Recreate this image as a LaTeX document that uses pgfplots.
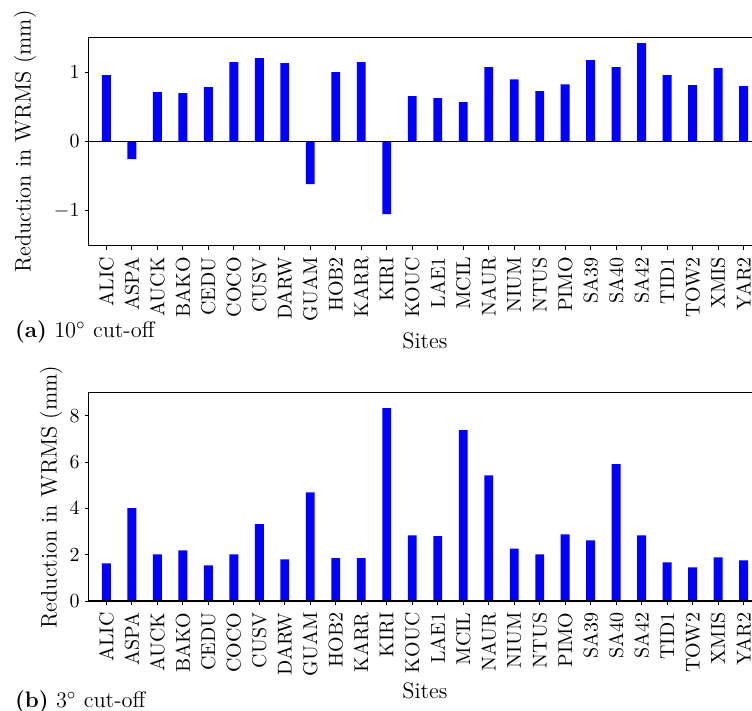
\documentclass[border=0pt]{standalone}
\usepackage{pgfplots}
\pgfplotsset{compat=1.18}
\begin{document}
\begin{tikzpicture}
\pgfplotsset{
  siteaxis/.style={
    scale only axis, width=336pt, height=104.2pt,
    xmin=-0.68, xmax=25.68,
    xtick={0,...,25},
    xticklabels={ALIC,ASPA,AUCK,BAKO,CEDU,COCO,CUSV,DARW,GUAM,HOB2,KARR,KIRI,KOUC,LAE1,MCIL,NAUR,NIUM,NTUS,PIMO,SA39,SA40,SA42,TID1,TOW2,XMIS,YAR2},
    xticklabel style={rotate=90, anchor=east},
    yticklabel style={xshift=1pt},
    tick align=outside, xtick pos=bottom, ytick pos=left,
    major tick length=2.2pt,
    tick label style={font=\fontsize{10}{12}\selectfont},
    label style={font=\fontsize{11.2}{13}\selectfont},
    ylabel={Reduction in WRMS (mm)},
    xlabel={Sites},
    clip=false,
    axis line style={line width=0.5pt},
    every tick/.style={black, line width=0.5pt},
  }
}
\begin{axis}[siteaxis, name=top, at={(0,0)}, anchor=north west,
  ymin=-1.5, ymax=1.5, ytick={-1,0,1},
  ylabel style={at={(axis description cs:-0.0952,0.5)}, anchor=center},
  xlabel style={at={(axis description cs:0.5,-0.457)}, anchor=center}]
\addplot[ybar, bar width=0.35, fill=blue, draw=none] coordinates {
(0,0.954) (1,-0.255) (2,0.709) (3,0.695) (4,0.781) (5,1.141) (6,1.199) (7,1.127)
(8,-0.614) (9,0.997) (10,1.141) (11,-1.046) (12,0.652) (13,0.623) (14,0.565)
(15,1.069) (16,0.896) (17,0.724) (18,0.824) (19,1.170) (20,1.069) (21,1.415)
(22,0.954) (23,0.810) (24,1.055) (25,0.796)};
\addplot[black, line width=0.75pt, forget plot] coordinates {(-0.68,0) (25.68,0)};
\node[anchor=west, font=\fontsize{11.2}{13}\selectfont] at (axis description cs:-0.1205,-0.414) {\textbf{(a)} 10$^\circ$ cut-off};
\end{axis}
\begin{axis}[siteaxis, name=bot, at={(0,-177.7pt)}, anchor=north west,
  ymin=0, ymax=9, ytick={0,2,4,6,8},
  ylabel style={at={(axis description cs:-0.0565,0.5)}, anchor=center},
  xlabel style={at={(axis description cs:0.5,-0.432)}, anchor=center}]
\addplot[ybar, bar width=0.35, fill=blue, draw=none] coordinates {
(0,1.63) (1,4.01) (2,2.02) (3,2.19) (4,1.54) (5,2.02) (6,3.32) (7,1.80)
(8,4.70) (9,1.85) (10,1.85) (11,8.33) (12,2.84) (13,2.80) (14,7.38)
(15,5.43) (16,2.27) (17,2.02) (18,2.88) (19,2.62) (20,5.91) (21,2.84)
(22,1.67) (23,1.46) (24,1.89) (25,1.76)};
\addplot[black, line width=0.75pt, forget plot] coordinates {(-0.68,0) (25.68,0)};
\node[anchor=west, font=\fontsize{11.2}{13}\selectfont] at (axis description cs:-0.1205,-0.482) {\textbf{(b)} 3$^\circ$ cut-off};
\end{axis}
\pgfresetboundingbox
\useasboundingbox ([shift={(-44.5pt,18.65pt)}]top.north west) rectangle ([shift={(331.5pt,-336.85pt)}]top.north west);
\end{tikzpicture}
\end{document}
